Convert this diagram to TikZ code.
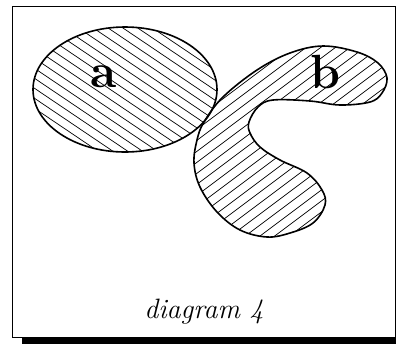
\documentclass[tikz,border=0pt]{standalone}
\usepackage{amsmath,amssymb}
\usetikzlibrary{positioning}

\tikzset{
  outline/.style={line width=0.8pt},
  hatch/.style={line width=0.35pt},
  bigletter/.style={inner sep=0pt, font=\fontsize{24}{24}\selectfont\bfseries}
}

\begin{document}
\begin{tikzpicture}[x=0.5pt, y=-0.5pt]
  \useasboundingbox (0,0) rectangle (396,344);
  % frame with shadow
  \fill (22,337) rectangle (396,344);
  \draw [line width=0.5pt, fill=white] (12,6) rectangle (395,337);

  % region a
  \draw [outline, path picture={
      \foreach \c in {-125,-115,...,140}
        \draw [hatch] (20,\c+13.5) -- (230,\c+155.25);
    }] (125,89.5) ellipse (92 and 62.5);

  % region b
  \draw [outline, path picture={
      \foreach \c in {255,266,...,470}
        \draw [hatch] (185,\c-138.75) -- (395,\c-296.25);
    }] plot [smooth cycle, tension=0.6] coordinates {
      (204,122) (223,97) (257,70) (290,53) (323,46) (357,52) (378,63)
      (387,78) (382,93) (370,102) (340,105) (310,101) (273,100) (258,107)
      (249,122) (250,133) (260,147) (280,160) (307,173) (322,190) (325,205)
      (313,223) (290,233) (267,237) (240,230) (217,212) (200,187) (194,163)
      (197,140)};

  \node [bigletter] (lbla) at (104,77) {a};
  \node [bigletter] (lblb) at (325,72) {b};
  \node (caption) at (204,312) {\fontsize{14}{16}\selectfont\itshape diagram 4};
\end{tikzpicture}
\end{document}
